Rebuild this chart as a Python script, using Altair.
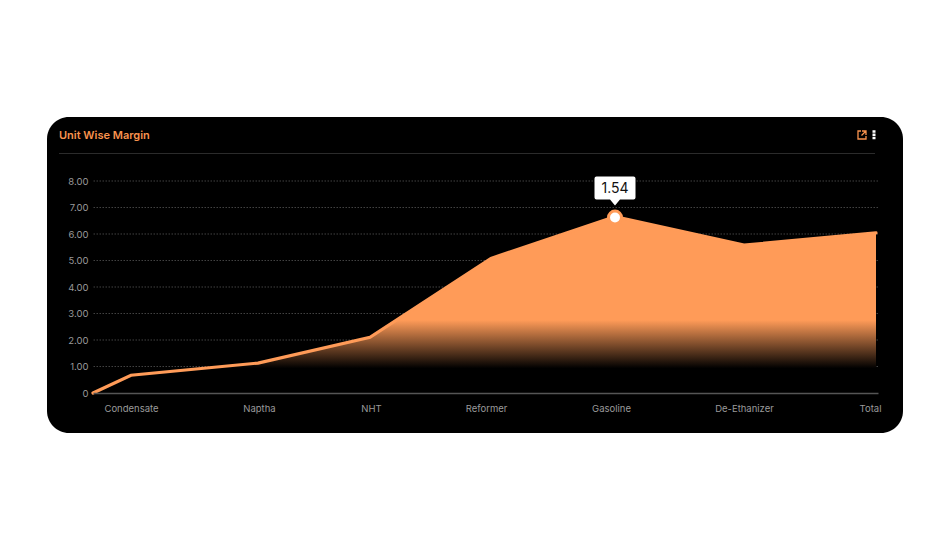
import altair as alt
import pandas as pd

# x positions are in chart units along the category axis
point_x = [0, 38, 165, 277, 398, 522, 651, 783]
point_y = [0, 0.67, 1.13, 2.1, 5.08, 6.65, 5.58, 6.04]
categories = ["Condensate", "Naptha", "NHT", "Reformer", "Gasoline", "De-Ethanizer", "Total"]
label_x = [38, 166, 278, 393, 518, 651, 777]
y_ticks = [0, 1, 2, 3, 4, 5, 6, 7, 8]
grid_y = [1, 2, 3, 4, 5, 6, 7, 8]
tip_x = 522
tip_y = 6.62
tip_label = "1.54"
title_text = "Unit Wise Margin"

ORANGE = "#FF9B58"
TITLE_ORANGE = "#F9934E"
GREY = "#9A9A9A"
FONT = "Inter"

df = pd.DataFrame({"x": point_x, "y": point_y})
x_scale = alt.Scale(domain=[0, 785], nice=False, zero=False)
y_scale = alt.Scale(domain=[0, 8], nice=False)
label_expr = "{" + ",".join(f"'{k}':'{v}'" for k, v in zip(label_x, categories)) + "}[datum.value]"

OX, OY = 85, 173  # plot-area origin within the canvas


def bx(px):
    return px - 93


def by(py):
    return py - 181


y_axis = alt.Axis(
    values=y_ticks,
    labelExpr="datum.value === 0 ? '0' : format(datum.value, '.2f')",
    title=None,
    grid=False,
    ticks=False,
    domain=False,
    labelColor=GREY,
    labelFont=FONT,
    labelFontSize=9.5,
    labelPadding=5,
    labelOverlap=False,
    labelBound=False,
    labelFlush=False,
    zindex=1,
)
x_axis = alt.Axis(
    values=label_x,
    labelExpr=label_expr,
    title=None,
    grid=False,
    ticks=False,
    domain=True,
    domainColor="#555555",
    domainWidth=1.5,
    labelColor=GREY,
    labelFont=FONT,
    labelFontSize=9.5,
    labelPadding=10,
    labelFlush=False,
    labelOverlap=False,
    zindex=1,
)
X = alt.X("x:Q", scale=x_scale, axis=x_axis, title=None)
Y = alt.Y("y:Q", scale=y_scale, axis=y_axis, title=None)

blank = alt.Chart(pd.DataFrame({"a": [0]}))

card = blank.mark_rect(color="#000000", cornerRadius=22, clip=False).encode(
    x=alt.value(bx(47)), x2=alt.value(bx(903)), y=alt.value(by(117)), y2=alt.value(by(433))
)
header_rule = blank.mark_rule(color="#2B2B2B", strokeWidth=1, clip=False).encode(
    x=alt.value(bx(59)), x2=alt.value(bx(875)), y=alt.value(by(153.5))
)
title = blank.mark_text(
    text=title_text, font=FONT, fontSize=11, fontWeight=600, color=TITLE_ORANGE, align="left", baseline="middle"
).encode(x=alt.value(bx(59)), y=alt.value(by(135.5)))

grid = alt.Chart(pd.DataFrame({"g": grid_y})).mark_rule(
    color="#5E5E5E", strokeDash=[1.5, 1.5], strokeWidth=0.7
).encode(y=alt.Y("g:Q", scale=y_scale, axis=y_axis, title=None))

gradient = alt.Gradient(
    gradient="linear",
    x1=0,
    x2=0,
    y1=0,
    y2=1,
    stops=[
        alt.GradientStop(offset=0, color=ORANGE),
        alt.GradientStop(offset=0.587, color=ORANGE),
        alt.GradientStop(offset=0.86, color="#000000"),
        alt.GradientStop(offset=1, color="#000000"),
    ],
)
area = alt.Chart(df).mark_area(color=gradient, clip=False).encode(x=X, y=Y)
line = alt.Chart(df).mark_line(color=ORANGE, strokeWidth=3.2, clip=False, strokeCap="round").encode(x=X, y=Y)

tip_df = pd.DataFrame({"x": [tip_x], "y": [tip_y], "label": [tip_label]})
dot = alt.Chart(tip_df).mark_point(
    shape="circle", filled=True, fill="#FFFFFF", stroke=ORANGE, strokeWidth=3, size=169, opacity=1, clip=False
).encode(x=X, y=Y)
bubble = alt.Chart(tip_df).mark_point(
    shape="M-18.5 -41 H18.5 Q20.5 -41 20.5 -39 V-20 Q20.5 -18 18.5 -18 H5 L0 -12 L-5 -18 H-18.5 Q-20.5 -18 -20.5 -20 V-39 Q-20.5 -41 -18.5 -41 Z",
    filled=True,
    fill="#FFFFFF",
    strokeWidth=0,
    size=4,
    opacity=1,
    clip=False,
).encode(x=X, y=Y)
bubble_text = alt.Chart(tip_df).mark_text(
    font=FONT, fontSize=14, color="#111111", align="center", baseline="middle", dy=-29, clip=False
).encode(x=X, y=Y, text="label:N")

# header icons
export_icon = blank.mark_point(
    shape="M-1 -4 H-4 V4 H4 V1 M0 -4 H4 V0 M4 -4 L-0.5 0.5",
    filled=False,
    stroke=TITLE_ORANGE,
    strokeWidth=1.3,
    size=4,
    opacity=1,
    clip=False,
).encode(x=alt.value(bx(862)), y=alt.value(by(135)))
kebab = blank.mark_point(
    shape="M-1.5 -4.5 H1.5 V-2 H-1.5 Z M-1.5 -1.25 H1.5 V1.25 H-1.5 Z M-1.5 2 H1.5 V4.5 H-1.5 Z",
    filled=True,
    fill="#FFFFFF",
    strokeWidth=0,
    size=4,
    opacity=1,
    clip=False,
).encode(x=alt.value(bx(874)), y=alt.value(by(134.7)))

chart = (
    alt.layer(card, header_rule, title, grid, area, line, bubble, bubble_text, dot, export_icon, kebab)
    .properties(
        width=785,
        height=212,
        padding={"left": OX, "top": OY, "right": 64, "bottom": 149},
        autosize=alt.AutoSizeParams(type="none"),
        background="#FFFFFF",
    )
    .configure_view(strokeWidth=0)
    .resolve_scale(x="shared", y="shared")
)

chart.save("out.html", embed_options={"renderer": "svg", "actions": False})
